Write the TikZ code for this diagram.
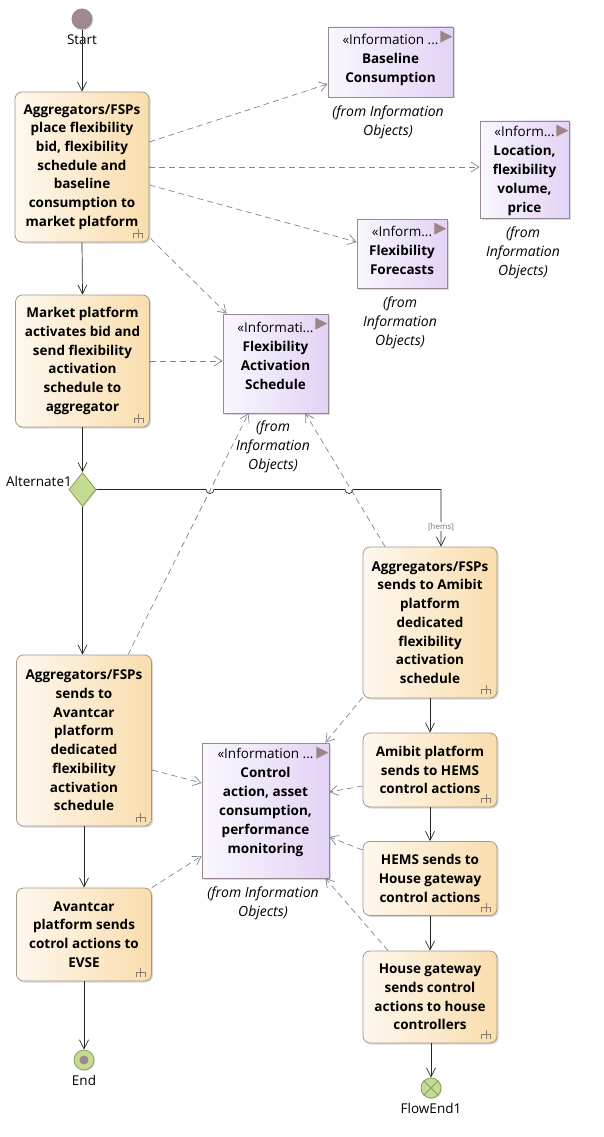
\documentclass[tikz,border=0pt]{standalone}
\usepackage{fontspec}
\setmainfont{Open Sans}
\usetikzlibrary{arrows.meta,shapes.geometric,shadows}
\definecolor{actL}{HTML}{FEF8EE}
\definecolor{actR}{HTML}{F9DDAD}
\definecolor{actB}{HTML}{A8948A}
\definecolor{infL}{HTML}{FAF7FE}
\definecolor{infR}{HTML}{E3D3F5}
\definecolor{infB}{HTML}{9A8890}
\definecolor{tric}{HTML}{9C8487}
\definecolor{depc}{HTML}{7D8498}
\definecolor{startc}{HTML}{9E8A8E}
\definecolor{greenF}{HTML}{C4DC92}
\definecolor{greenB}{HTML}{8C9C64}
\definecolor{forkc}{HTML}{8A7A70}
\newcommand\forkicon[1]{\draw[forkc, line width=0.6pt] ([shift={(-16,-4)}]#1.south east) -- ++(0,-5) -- ++(9,0) -- ++(0,5) ([shift={(-11.5,-4)}]#1.south east) -- ++(0,-9);}
\newcommand\stereotri[1]{\fill[tric] ([shift={(-13,4)}]#1.north east) -- ++(0,12) -- ++(12,-6) -- cycle;}
\begin{document}
\begin{tikzpicture}[x=1pt,y=-1pt,
  act/.style={draw=actB, line width=0.8pt, rounded corners=7pt, left color=actL, right color=actR, align=center, font=\bfseries\fontsize{13.5}{18.7}\selectfont, inner sep=0pt, drop shadow={shadow xshift=1.5pt, shadow yshift=-1.5pt, opacity=0.3}},
  info/.style={draw=infB, line width=0.8pt, left color=infL, right color=infR, inner sep=0pt, drop shadow={shadow xshift=1.5pt, shadow yshift=-1.5pt, opacity=0.3}},
  infotext/.style={align=center, font=\fontsize{13.5}{19}\selectfont, inner sep=0pt},
  from/.style={align=center, font=\itshape\fontsize{14}{19}\selectfont, inner sep=0pt},
  lbl/.style={font=\fontsize{13.5}{14}\selectfont, inner sep=0pt},
  flow/.style={draw=black!85, line width=0.7pt, -{Straight Barb[length=9pt,width=9pt]}},
  dep/.style={draw=depc, line width=0.7pt, dash pattern=on 6pt off 4pt, -{Straight Barb[length=8pt,width=10pt]}},
  hemslbl/.style={font=\fontsize{8}{9}\selectfont, text=black!55, fill=white, inner sep=0.5pt}
]
\useasboundingbox (0,0) rectangle (603,1137);

% initial / final nodes
\node[circle, fill=startc, minimum size=21pt, inner sep=0pt, drop shadow={shadow xshift=1pt, shadow yshift=-1pt, opacity=0.25}] (st) at (82,19) {};
\node[lbl] (stl) at (82,40) {Start};

% actions
\node[act, minimum width=134pt, minimum height=150pt] (a1) at (82,167) {Aggregators/FSPs\\place flexibility\\bid, flexibility\\schedule and\\baseline\\consumption to\\market platform};
\node[act, minimum width=134pt, minimum height=132pt] (a2) at (82.5,361) {Market platform\\activates bid and\\send flexibility\\activation\\schedule to\\aggregator};
\node[diamond, draw=greenB, fill=greenF, line width=0.8pt, minimum width=27pt, minimum height=34pt, inner sep=0pt, drop shadow={shadow xshift=1pt, shadow yshift=-1pt, opacity=0.25}] (dia) at (82.5,489.5) {};
\node[lbl, anchor=east] (dial) at (72,481) {Alternate1};
\node[act, minimum width=135pt, minimum height=171pt] (a3) at (84,740.5) {Aggregators/FSPs\\sends to\\Avantcar\\platform\\dedicated\\flexibility\\activation\\schedule};
\node[act, minimum width=135pt, minimum height=93pt] (a4) at (84,934.5) {Avantcar\\platform sends\\cotrol actions to\\EVSE};
\node[circle, draw=greenB, fill=greenF, line width=0.8pt, minimum size=20pt, inner sep=0pt, drop shadow={shadow xshift=1pt, shadow yshift=-1pt, opacity=0.25}] (en) at (84,1060) {};
\fill[startc] (en.center) circle (4.5);
\node[lbl] (enl) at (84,1080) {End};

\node[act, minimum width=134pt, minimum height=151pt] (a5) at (430,622.5) {Aggregators/FSPs\\sends to Amibit\\platform\\dedicated\\flexibility\\activation\\schedule};
\node[act, minimum width=134pt, minimum height=74pt] (a6) at (430,770) {Amibit platform\\sends to HEMS\\control actions};
\node[act, minimum width=134pt, minimum height=74pt] (a7) at (430,878.5) {HEMS sends to\\House gateway\\control actions};
\node[act, minimum width=134pt, minimum height=92pt] (a8) at (430,997) {House gateway\\sends control\\actions to house\\controllers};
\node[circle, draw=greenB, fill=greenF, line width=0.8pt, minimum size=20pt, inner sep=0pt, drop shadow={shadow xshift=1pt, shadow yshift=-1pt, opacity=0.25}] (fe) at (431,1088) {};
\draw[greenB, line width=0.8pt] (fe.north east) -- (fe.south west) (fe.north west) -- (fe.south east);
\node[lbl] (fel) at (431,1108) {FlowEnd1};

\foreach \n in {a1,a2,a3,a4,a5,a6,a7,a8} {\forkicon{\n}}

% information objects
\node[info, minimum width=125pt, minimum height=70pt] (i1) at (390.5,62) {};
\node[infotext] (i1t) at (390.5,59.5) {«Information ...\\\textbf{Baseline}\\\textbf{Consumption}};
\node[from] (i1f) at (388,122) {(from Information\\Objects)};

\node[info, minimum width=89pt, minimum height=97pt] (i2) at (524.5,169.5) {};
\node[infotext] (i2t) at (524.5,171) {«Inform...\\\textbf{Location,}\\\textbf{flexibility}\\\textbf{volume,}\\\textbf{price}};
\node[from] (i2f) at (523,253) {(from\\Information\\Objects)};

\node[info, minimum width=90pt, minimum height=69pt] (i3) at (402,253.5) {};
\node[infotext] (i3t) at (402,250.5) {«Inform...\\\textbf{Flexibility}\\\textbf{Forecasts}};
\node[from] (i3f) at (400,323) {(from\\Information\\Objects)};

\node[info, minimum width=105pt, minimum height=99pt] (i4) at (275.5,363.5) {};
\node[infotext] (i4t) at (275.5,355.5) {«Informati...\\\textbf{Flexibility}\\\textbf{Activation}\\\textbf{Schedule}};
\node[from] (i4f) at (273,447) {(from\\Information\\Objects)};

\node[info, minimum width=127pt, minimum height=135pt] (i5) at (265.5,810.5) {};
\node[infotext] (i5t) at (265.5,802.5) {«Information ...\\\textbf{Control}\\\textbf{action, asset}\\\textbf{consumption,}\\\textbf{performance}\\\textbf{monitoring}};
\node[from] (i5f) at (263,903.5) {(from Information\\Objects)};

\foreach \n in {i1,i2,i3,i4,i5} {\stereotri{\n}}

% control flows
\draw[flow] (st) -- (a1.north);
\draw[flow] (a1.south) -- (a2.north);
\draw[flow] (a2.south) -- (dia.north);
\draw[flow] (dia.south) -- (dia.south |- a3.north);
\draw[flow] (a3.south) -- (a4.north);
\draw[flow] (a4.south) -- (en.north);
\coordinate (hop1) at (210,489.5);
\coordinate (hop2) at (349,489.5);
\coordinate (a5in) at ([xshift=11pt]a5.north);
\draw[flow] (dia.east) -- ([xshift=-4pt]hop1) arc[start angle=180, end angle=0, radius=4]
  -- ([xshift=-4pt]hop2) arc[start angle=180, end angle=0, radius=4]
  -- (a5in |- dia.east) -- node[hemslbl, pos=0.65] (hems) {[hems]} (a5in);
\draw[flow] (a5.south) -- (a6.north);
\draw[flow] (a6.south) -- (a7.north);
\draw[flow] (a7.south) -- (a8.north);
\draw[flow] ([xshift=1pt]a8.south) -- (fe.north);

% dependencies
\draw[dep] ([shift={(0,-25)}]a1.east) -- ([shift={(0,22)}]i1.west);
\draw[dep] (a1.east) -- (a1.east -| i2.west);
\draw[dep] ([shift={(0,18)}]a1.east) -- ([shift={(0,-11.5)}]i3.west);
\draw[dep] ([shift={(1,-4)}]a1.south east) -- ([shift={(4,0)}]i4.north west);
\draw[dep] (a2.east) -- (a2.east -| i4.west);
\draw[dep] ([shift={(44,0)}]a3.north) -- ([shift={(-27,0)}]i4.south);
\draw[dep] ([shift={(-45,0)}]a5.north) -- ([shift={(30,0)}]i4.south);
\draw[dep] ([shift={(0,-1)}]a5.south west) -- ([shift={(-4,0)}]i5.north east);
\draw[dep] ([shift={(0,29.5)}]a3.east) -- ([shift={(0,-27.5)}]i5.west);
\draw[dep] (a4.north east) -- ([shift={(0,45.5)}]i5.west);
\draw[dep] ([shift={(0,16)}]a6.west) -- ([shift={(0,-18.5)}]i5.east);
\draw[dep] ([shift={(0,-28.5)}]a7.west) -- ([shift={(0,26.5)}]i5.east);
\draw[dep] ([shift={(-42,0)}]a8.north) -- ([shift={(-4,0)}]i5.south east);
\end{tikzpicture}
\end{document}
